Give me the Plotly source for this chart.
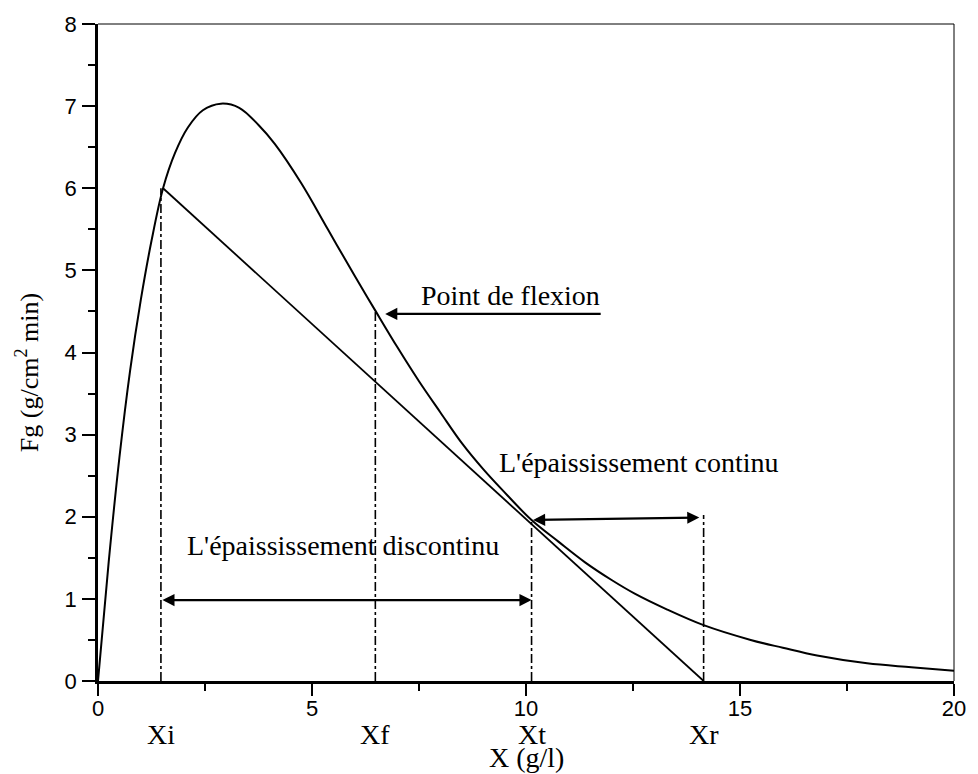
import plotly.graph_objects as go

# Settling flux curve Fg(X)
conc = [0, 0.25, 0.5, 0.75, 1.0, 1.25, 1.52, 1.8, 2.1, 2.45, 2.87, 3.3, 3.75,
        4.13, 4.75, 5.37, 5.99, 6.48, 7.0, 7.5, 8.0, 8.51, 9.0, 9.44, 10.13,
        10.75, 11.38, 12.0, 12.54, 13.3, 14.15, 15.25, 16.0, 16.8, 17.97, 19.0, 20]
flux = [0, 1.45, 2.72, 3.78, 4.64, 5.36, 6.0, 6.43, 6.74, 6.95, 7.03, 6.98, 6.77,
        6.54, 6.06, 5.50, 4.94, 4.51, 4.06, 3.65, 3.27, 2.89, 2.58, 2.33, 1.96,
        1.70, 1.445, 1.23, 1.064, 0.87, 0.68, 0.50, 0.405, 0.31, 0.215, 0.168, 0.125]

# Tangent line from Xi down to Xr on the axis
tangent_x = [1.52, 14.15]
tangent_y = [6.0, 0.0]

# Characteristic concentrations and the height of their marker lines
marks = ["Xi", "Xf", "Xt", "Xr"]
marks_x = [1.47, 6.48, 10.13, 14.15]
marks_top = [6.0, 4.51, 1.96, 2.02]

serif = "Liberation Serif, Times New Roman, serif"
sans = "Liberation Sans, Arial, sans-serif"

fig = go.Figure()
fig.add_trace(go.Scatter(x=conc, y=flux, mode="lines",
                         line=dict(color="black", width=2, shape="spline", smoothing=1.0),
                         showlegend=False, hoverinfo="skip"))
fig.add_trace(go.Scatter(x=tangent_x, y=tangent_y, mode="lines",
                         line=dict(color="black", width=1.8),
                         showlegend=False, hoverinfo="skip"))
for mx, mt in zip(marks_x, marks_top):
    fig.add_trace(go.Scatter(x=[mx, mx], y=[0, mt], mode="lines",
                             line=dict(color="black", width=1.6, dash="dashdot"),
                             showlegend=False, hoverinfo="skip"))

ann = []
for name, mx in zip(marks, marks_x):
    ann.append(dict(x=mx, y=-0.081, xref="x", yref="paper", text=name, showarrow=False,
                    font=dict(family=serif, size=28, color="black"),
                    xanchor="center", yanchor="middle"))

ann.append(dict(x=10, y=-0.117, xref="x", yref="paper", text="X (g/l)", showarrow=False,
                font=dict(family=serif, size=28, color="black"),
                xanchor="center", yanchor="middle"))
ann.append(dict(x=-0.083, y=0.47, xref="paper", yref="paper",
                text="Fg (g/cm<sup>2</sup> min)", textangle=-90, showarrow=False,
                font=dict(family=serif, size=26, color="black"),
                xanchor="center", yanchor="middle"))

# Text labels
ann.append(dict(x=9.64, y=4.70, xref="x", yref="y", text="Point de flexion",
                showarrow=False, font=dict(family=serif, size=28, color="black")))
ann.append(dict(x=12.64, y=2.66, xref="x", yref="y", text="L'épaississement continu",
                showarrow=False, font=dict(family=serif, size=28, color="black")))
ann.append(dict(x=5.72, y=1.65, xref="x", yref="y", text="L'épaississement discontinu",
                showarrow=False, font=dict(family=serif, size=28, color="black")))

# Arrows
arrow_style = dict(showarrow=True, arrowhead=2, arrowsize=1.1, arrowwidth=2.2,
                   arrowcolor="black", text="", xref="x", yref="y",
                   axref="x", ayref="y", standoff=0, startstandoff=0)
ann.append(dict(x=6.71, y=4.47, ax=11.78, ay=4.47, **arrow_style))
ann.append(dict(x=10.13, y=0.985, ax=1.47, ay=0.985, arrowside="end+start", **arrow_style))
ann.append(dict(x=14.05, y=1.99, ax=10.13, ay=1.96, arrowside="end+start", **arrow_style))

fig.update_layout(
    width=978, height=774,
    margin=dict(l=98, r=20, t=23, b=93),
    plot_bgcolor="white", paper_bgcolor="white",
    annotations=ann,
    shapes=[
        dict(type="line", xref="paper", yref="paper", x0=0, x1=1, y0=1, y1=1,
             line=dict(color="black", width=1)),
        dict(type="line", xref="paper", yref="paper", x0=1, x1=1, y0=0, y1=1,
             line=dict(color="black", width=1)),
    ],
)
fig.update_xaxes(range=[0, 20], tickvals=[0, 5, 10, 15, 20], showgrid=False, zeroline=False,
                 showline=True, linecolor="black", linewidth=2.5, mirror=False,
                 ticks="outside", ticklen=12, tickwidth=2.2, tickcolor="black",
                 ticklabelstandoff=-6,
                 tickfont=dict(family=sans, size=22, color="black"),
                 minor=dict(tickvals=[2.5, 7.5, 12.5, 17.5], ticks="outside", ticklen=7,
                            tickwidth=2.2, tickcolor="black"))
fig.update_yaxes(range=[0, 8], tickvals=list(range(0, 9)), showgrid=False, zeroline=False,
                 showline=True, linecolor="black", linewidth=2.5, mirror=False,
                 ticks="outside", ticklen=13, tickwidth=2.2, tickcolor="black",
                 ticklabelstandoff=1,
                 tickfont=dict(family=sans, size=22, color="black"),
                 minor=dict(tickvals=[0.5 + i for i in range(8)], ticks="outside", ticklen=7,
                            tickwidth=2.2, tickcolor="black"))

fig.write_html("out.html")
